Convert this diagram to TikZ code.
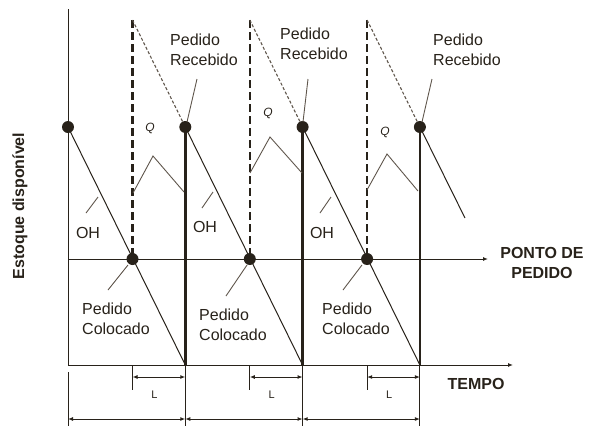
\documentclass[tikz,border=0pt]{standalone}
\usepackage{fontspec}
\setmainfont{Liberation Sans}
\usetikzlibrary{arrows.meta,positioning,calc}
\definecolor{ink}{RGB}{40,34,26}
\definecolor{guide}{RGB}{95,86,76}

\tikzset{
    txt/.style={font=\fontsize{16}{20}\selectfont, text=ink, inner sep=0pt, align=left},
    heading/.style={font=\fontsize{16}{20}\selectfont\bfseries, text=ink, inner sep=0pt, align=center},
    qlabel/.style={font=\fontsize{12}{14}\selectfont\itshape, text=ink, inner sep=0pt},
    llabel/.style={font=\fontsize{11}{13}\selectfont, text=ink, inner sep=0pt},
    thinline/.style={draw=ink, line width=1pt},
    leader/.style={draw=guide, line width=0.9pt},
    recline/.style={draw=ink, line width=2.5pt},
    ordline/.style={draw=ink, line width=2.4pt, dash pattern=on 8pt off 4pt},
    ghost/.style={draw=guide, line width=1.1pt, dash pattern=on 3pt off 2pt},
    dim/.style={draw=ink, line width=1pt, {Latex[length=5pt,width=4pt]}-{Latex[length=5pt,width=4pt]}},
    axis/.style={draw=ink, line width=1pt, -{Latex[length=5pt,width=4pt]}},
    dot/.style={fill=ink}
}

\begin{document}
\begin{tikzpicture}[x=1pt,y=-1pt]
    \useasboundingbox (0,0) rectangle (590,426);

    % Axes
    \coordinate (origin) at (68,365);
    \coordinate (ytop) at (68,9);
    \coordinate (tend) at (513,365);
    \coordinate (rstart) at (68,259);
    \coordinate (rend) at (488,259);
    \draw[thinline] (origin) -- (ytop);
    \draw[axis] (origin) -- (tend);
    \draw[axis] (rstart) -- (rend);
    \draw[thinline] (68,372) -- (68,426);

    % Cycles
    \foreach \i in {0,1,2} {
        \pgfmathsetmacro{\a}{68+117.3*\i}
        \pgfmathsetmacro{\r}{\a+64.5}
        \pgfmathsetmacro{\b}{\a+117.3}
        \coordinate (top\i) at (\a,127);
        \coordinate (ord\i) at (\r,259);
        \coordinate (peak\i) at (\r,20);
        \coordinate (rec\i) at (\b,127);
        \coordinate (bot\i) at (\b,365);
        % consumption
        \draw[thinline] (top\i) -- (bot\i);
        \draw[ordline] (peak\i) -- ($(ord\i)+(0,-5)$);
        \draw[ghost] (peak\i) -- (rec\i);
        \draw[recline] (rec\i) -- (bot\i);
        % lead time
        \draw[thinline] (\r,366) -- (\r,390);
        \draw[dim] (\r,377) -- (\b,377);
        \node[llabel] (L\i) at (\r+22,395) {L};
        % cycle length
        \draw[thinline] (bot\i) -- (\b,426);
        \draw[dim] (\a,419) -- (\b,419);
    }
    \coordinate (tail) at (465,218);
    \draw[thinline] (rec2) -- (tail);

    % Dots
    \fill[dot] (top0) circle (6pt);
    \foreach \i in {0,1,2} {
        \fill[dot] (rec\i) circle (6pt);
        \fill[dot] (ord\i) circle (6pt);
    }

    % Q brackets
    \draw[leader] (133,193) -- (153,156) -- (184,192);
    \draw[leader] (250,173) -- (270,137) -- (302,173);
    \draw[leader] (367,190) -- (387,154) -- (418,191);
    \node[qlabel] (q0) at (150,128) {Q};
    \node[qlabel] (q1) at (268,113) {Q};
    \node[qlabel] (q2) at (385,132) {Q};

    % On hand
    \draw[leader] (98,197) -- (86,213);
    \draw[leader] (213,192) -- (202,208);
    \draw[leader] (331,197) -- (320,213);
    \node[txt] (oh0) at (88,233) {OH};
    \node[txt] (oh1) at (205,227) {OH};
    \node[txt] (oh2) at (322,233) {OH};

    % Pedido Recebido
    \node[txt, anchor=west] (rl0) at (170,50) {Pedido\\Recebido};
    \node[txt, anchor=west] (rl1) at (280,44) {Pedido\\Recebido};
    \node[txt, anchor=west] (rl2) at (433,50) {Pedido\\Recebido};
    \draw[leader] (197,79) -- (187,122);
    \draw[leader] (308,79) -- (303,122);
    \draw[leader] (432,79) -- (422,122);

    % Pedido Colocado
    \node[txt, anchor=west] (cl0) at (82,319) {Pedido\\Colocado};
    \node[txt, anchor=west] (cl1) at (199,325) {Pedido\\Colocado};
    \node[txt, anchor=west] (cl2) at (322,319) {Pedido\\Colocado};
    \draw[leader] (108,290) -- (128,265);
    \draw[leader] (226,296) -- (247,265);
    \draw[leader] (343,290) -- (362,265);

    % Axis titles
    \node[heading, rotate=90] (ylab) at (20,206) {Estoque disponível};
    \node[heading] (rop) at (542,263) {PONTO DE\\PEDIDO};
    \node[heading] (time) at (476,384) {TEMPO};
\end{tikzpicture}
\end{document}
